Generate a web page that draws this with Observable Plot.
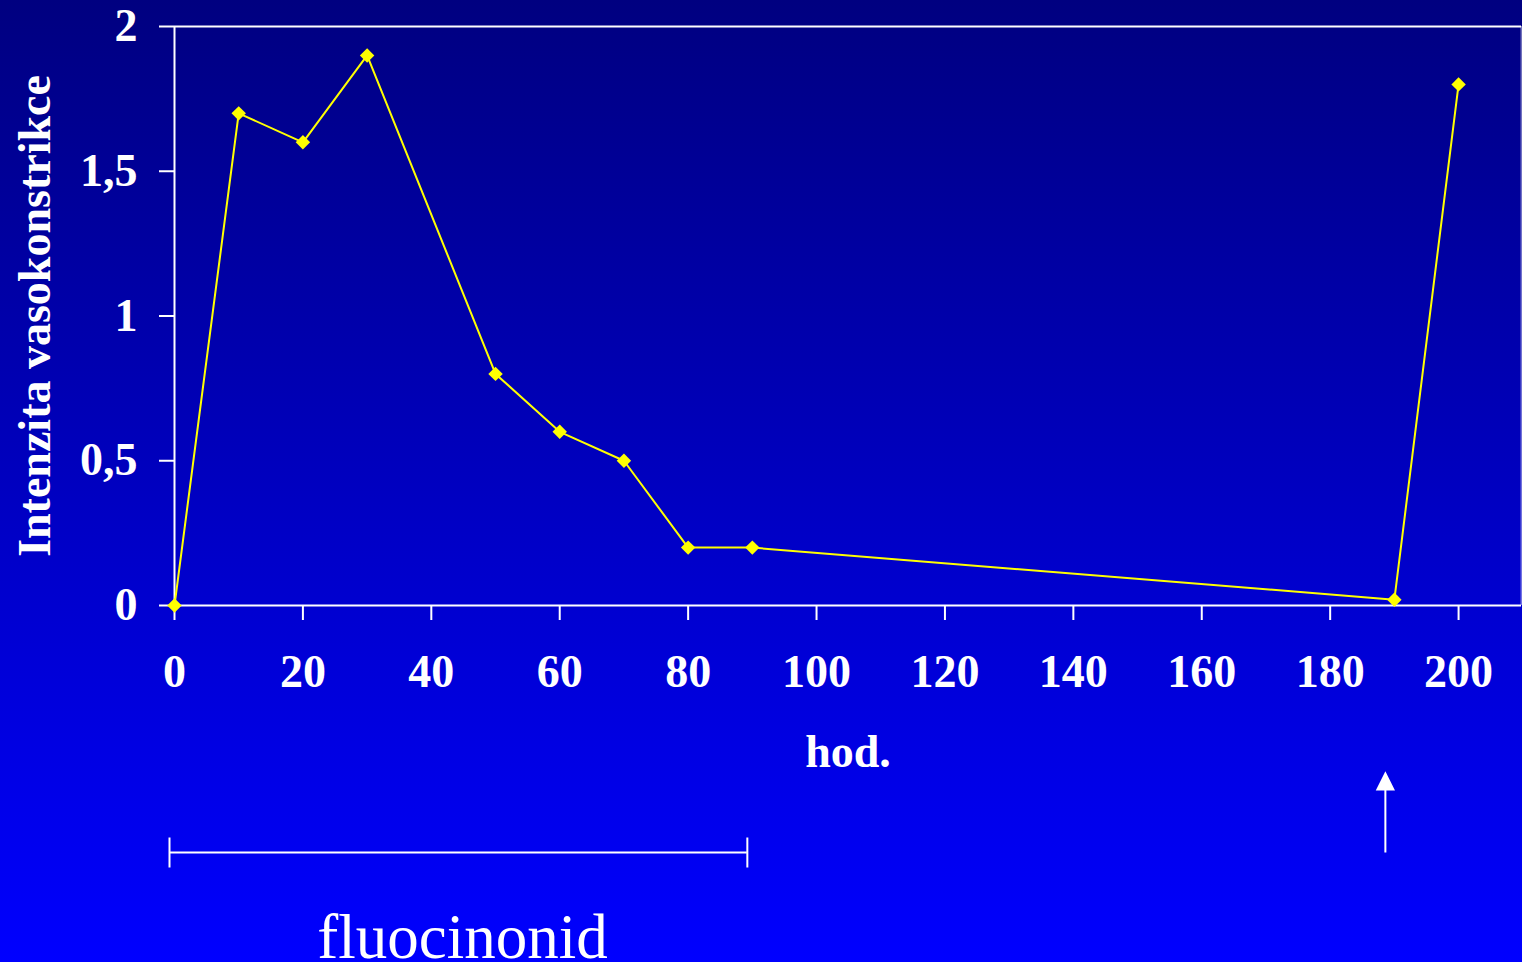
<!DOCTYPE html>
<html>
<head>
<meta charset="utf-8">
<script src="https://cdn.jsdelivr.net/npm/d3@7"></script>
<script src="https://cdn.jsdelivr.net/npm/@observablehq/plot@0.6"></script>
<style>
  html, body { margin: 0; padding: 0; background: #0000ff; overflow: hidden; }
  svg { display: block; }
</style>
</head>
<body>
<div id="chart"></div>
<script>
// ---- data ----
const hours = [0, 10, 20, 30, 50, 60, 70, 80, 90, 190, 200];
const intensity = [0, 1.7, 1.6, 1.9, 0.8, 0.6, 0.5, 0.2, 0.2, 0.02, 1.8];
const xTicks = [0, 20, 40, 60, 80, 100, 120, 140, 160, 180, 200];
const yTicks = [0, 0.5, 1, 1.5, 2];
const xDomain = [0, 209.8];
const yDomain = [0, 2];
const yLabel = "Intenzita vasokonstrikce";
const xLabel = "hod.";
const treatmentLabel = "fluocinonid";
const treatmentPeriod = [0, 90];
const reapplicationAt = [190];

const data = hours.map((h, i) => ({hour: h, value: intensity[i]}));

// custom symbols (sizes in px come from r)
const vTick = {draw(ctx, size) { const h = Math.sqrt(size) / 2; ctx.moveTo(0, -h); ctx.lineTo(0, h); }};
const upArrow = {draw(ctx, size) {
  const L = Math.sqrt(size);
  ctx.moveTo(0, 0); ctx.lineTo(0, -L + 14);
  ctx.moveTo(0, -L); ctx.lineTo(8, -L + 16); ctx.lineTo(-8, -L + 16); ctx.closePath();
}};

const font = "'Liberation Serif', 'Times New Roman', serif";
const fmt = d => String(d).replace(".", ",");

const chart = Plot.plot({
  width: 1522,
  height: 962,
  marginLeft: 174,
  marginTop: 26,
  marginRight: 1,
  marginBottom: 357,
  x: {domain: xDomain},
  y: {domain: yDomain},
  style: {
    background: "linear-gradient(to bottom, #000080 0%, #0000ff 100%)",
    fontFamily: font,
    color: "white",
    overflow: "visible"
  },
  marks: [
    Plot.ruleY([yDomain[1]], {stroke: "white", strokeWidth: 2}),
    Plot.ruleX([xDomain[1]], {stroke: "white", strokeWidth: 2, strokeOpacity: 0.45}),
    Plot.axisX({ticks: xTicks, tickSize: 15, tickPadding: 34, tickFormat: fmt, label: null,
      fontSize: 46, fontWeight: "bold", fontFamily: font, stroke: "white", strokeWidth: 2, fill: "white"}),
    Plot.axisY({ticks: yTicks, tickSize: 15, tickPadding: 22, tickFormat: fmt, label: null,
      fontSize: 46, fontWeight: "bold", fontFamily: font, stroke: "white", strokeWidth: 2, fill: "white"}),
    Plot.ruleY([0], {stroke: "white", strokeWidth: 2}),
    Plot.ruleX([0], {stroke: "white", strokeWidth: 2}),
    Plot.line(data, {x: "hour", y: "value", stroke: "#ffff00", strokeWidth: 2}),
    Plot.dot(data, {x: "hour", y: "value", symbol: "diamond2", r: 6.5, fill: "#ffff00", stroke: "none"}),
    Plot.text([yLabel], {frameAnchor: "left", textAnchor: "middle", lineAnchor: "middle", rotate: -90, dx: -139,
      fontSize: 46, fontWeight: "bold", fontFamily: font, fill: "white"}),
    Plot.text([xLabel], {frameAnchor: "bottom", lineAnchor: "middle", dy: 147, fontSize: 46, fontWeight: "bold", fontFamily: font, fill: "white"}),
    // treatment bracket
    Plot.ruleY([0], {x1: treatmentPeriod[0], x2: treatmentPeriod[1], dy: 247, dx: -5, stroke: "white", strokeWidth: 2}),
    Plot.dot(treatmentPeriod, {x: d => d, y: () => 0, dy: 247, dx: -5, symbol: vTick, r: 30 / Math.sqrt(Math.PI),
      fill: "none", stroke: "white", strokeWidth: 2}),
    Plot.text([treatmentLabel], {x: () => (treatmentPeriod[0] + treatmentPeriod[1]) / 2, y: () => 0, dy: 332, dx: -1,
      fontSize: 63, fontWeight: "normal", fontFamily: font, fill: "white"}),
    // reapplication arrow
    Plot.dot(reapplicationAt, {x: d => d, y: () => 0, dy: 247, dx: -9, symbol: upArrow, r: 79 / Math.sqrt(Math.PI),
      fill: "white", stroke: "white", strokeWidth: 2})
  ]
});

document.getElementById("chart").appendChild(chart);
</script>
</body>
</html>
